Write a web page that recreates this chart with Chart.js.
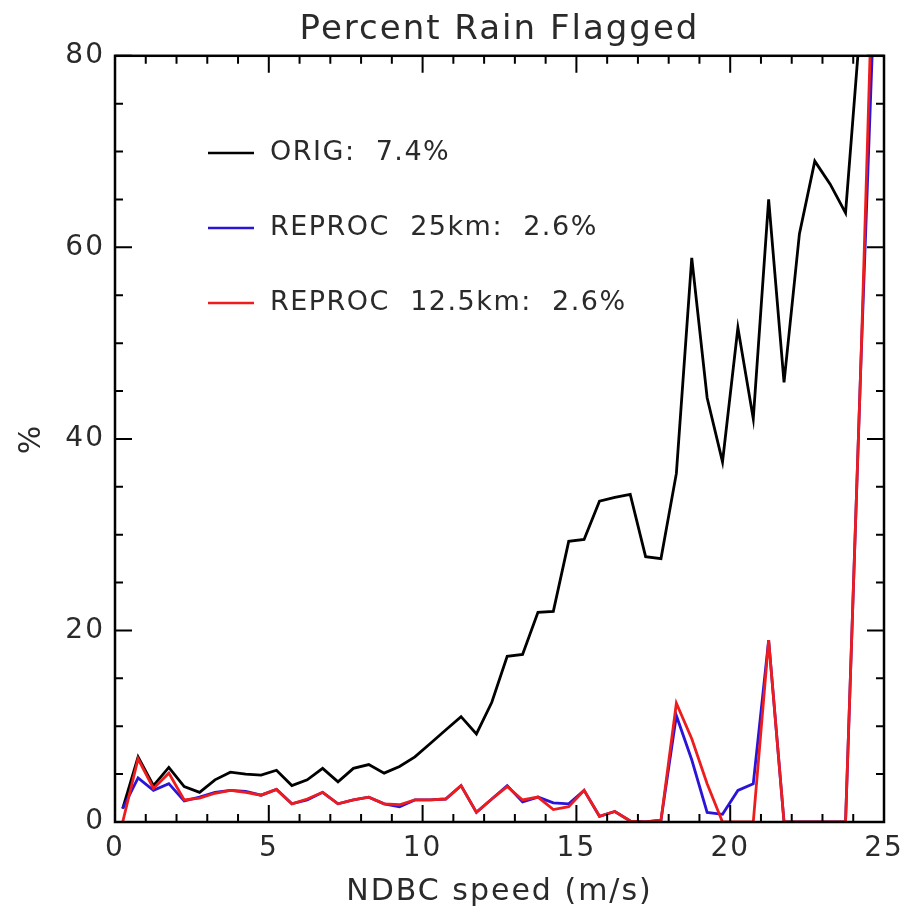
<!DOCTYPE html>
<html>
<head>
<meta charset="utf-8">
<script src="https://cdn.jsdelivr.net/npm/chart.js@4/dist/chart.umd.min.js"></script>
<style>
  html, body { margin: 0; padding: 0; background: #fff; }
  canvas { display: block; }
</style>
</head>
<body>
<canvas id="rainflag" width="907" height="916"></canvas>
<script>
// wind speed bins (m/s)
var speedBins = [0.25, 0.75, 1.25, 1.75, 2.25, 2.75, 3.25, 3.75, 4.25, 4.75,
	5.25, 5.75, 6.25, 6.75, 7.25, 7.75, 8.25, 8.75, 9.25, 9.75,
	10.25, 10.75, 11.25, 11.75, 12.25, 12.75, 13.25, 13.75, 14.25, 14.75,
	15.25, 15.75, 16.25, 16.75, 17.25, 17.75, 18.25, 18.75, 19.25, 19.75,
	20.25, 20.75, 21.25, 21.75, 22.25, 22.75, 23.25, 23.75, 24.25, 24.75];

// percent flagged per bin
var pctOrig = [1.4, 6.8, 3.8, 5.7, 3.7, 3.1, 4.4, 5.2, 5.0, 4.9,
	5.4, 3.8, 4.4, 5.6, 4.2, 5.6, 6.0, 5.1, 5.8, 6.8,
	8.2, 9.6, 11.0, 9.2, 12.5, 17.3, 17.5, 21.9, 22.0, 29.3,
	29.5, 33.5, 33.9, 34.2, 27.7, 27.5, 36.4, 58.9, 44.3, 37.6,
	51.6, 42.1, 65.0, 45.9, 61.4, 69.0, 66.6, 63.6, 84.1, 100];
var pct25km = [1.4, 4.6, 3.3, 4.0, 2.2, 2.6, 3.1, 3.3, 3.2, 2.8,
	3.4, 1.9, 2.3, 3.1, 1.9, 2.3, 2.6, 1.9, 1.6, 2.3,
	2.3, 2.4, 3.8, 1.0, 2.4, 3.8, 2.1, 2.6, 2.0, 1.9,
	3.3, 0.6, 1.1, 0.1, 0, 0.2, 11.1, 6.5, 1.0, 0.8,
	3.3, 4.0, 19.0, 0, 0, 0, 0, 0, 48, 92];
var pct12km = [0, 6.6, 3.5, 5.1, 2.3, 2.5, 3.0, 3.3, 3.1, 2.8,
	3.4, 1.9, 2.4, 3.1, 1.9, 2.3, 2.6, 1.9, 1.8, 2.3,
	2.3, 2.4, 3.8, 1.0, 2.4, 3.7, 2.3, 2.6, 1.3, 1.6,
	3.3, 0.6, 1.1, 0.1, 0, 0.2, 12.4, 8.7, 4.0, 0,
	0, 0, 19.0, 0, 0, 0, 0, 0, 48, 102];

var legendLabels = ["ORIG:  7.4%", "REPROC  25km:  2.6%", "REPROC  12.5km:  2.6%"];
var xTicks = [0, 5, 10, 15, 20, 25];
var yTicks = [0, 20, 40, 60, 80];

var FONT = "'DejaVu Sans', sans-serif";
var TXT = "#2a2a2a";

function pts(ys) {
	var out = [];
	for (var i = 0; i < speedBins.length; i++) out.push({ x: speedBins[i], y: ys[i] });
	return out;
}

// wide IDL-ish lettering
var spacing = {
	id: "spacing",
	beforeLayout: function (chart) { chart.ctx.letterSpacing = "2px"; },
	beforeDraw: function (chart) { chart.ctx.letterSpacing = "2px"; }
};

// IDL style box with inward ticks on all four sides + legend inside plot
var idlFrame = {
	id: "idlFrame",
	afterDraw: function (chart) {
		var ctx = chart.ctx, a = chart.chartArea;
		var xs = chart.scales.x, ys = chart.scales.y;
		ctx.save();
		ctx.strokeStyle = "#000";
		ctx.lineWidth = 2.5;
		ctx.strokeRect(a.left, a.top, a.right - a.left, a.bottom - a.top);
		ctx.lineWidth = 2;
		ctx.beginPath();
		for (var v = 0; v <= 25; v++) {
			var px = xs.getPixelForValue(v);
			var len = (v % 5 === 0) ? 17 : 8;
			ctx.moveTo(px, a.bottom); ctx.lineTo(px, a.bottom - len);
			ctx.moveTo(px, a.top); ctx.lineTo(px, a.top + len);
		}
		for (var w = 0; w <= 80; w += 5) {
			var py = ys.getPixelForValue(w);
			var len2 = (w % 20 === 0) ? 17 : 8;
			ctx.moveTo(a.left, py); ctx.lineTo(a.left + len2, py);
			ctx.moveTo(a.right, py); ctx.lineTo(a.right - len2, py);
		}
		ctx.stroke();

		// legend
		var cols = ["#000000", "#2a14d8", "#ee1c1c"];
		var rowY = [153, 228, 303];
		ctx.font = "27px " + FONT;
		ctx.letterSpacing = "1.5px";
		ctx.textBaseline = "middle";
		ctx.fillStyle = TXT;
		for (var k = 0; k < legendLabels.length; k++) {
			ctx.strokeStyle = cols[k];
			ctx.lineWidth = 2.5;
			ctx.beginPath();
			ctx.moveTo(208, rowY[k]); ctx.lineTo(254, rowY[k]);
			ctx.stroke();
			ctx.fillText(legendLabels[k], 270, rowY[k]);
		}
		ctx.restore();
	}
};

var data = {
	datasets: [{
			label: "REPROC 12.5km",
			data: pts(pct12km),
			borderColor: "#ee1c1c",
			borderWidth: 2.8,
			pointRadius: 0,
			tension: 0,
			order: 0
		}, {
			label: "REPROC 25km",
			data: pts(pct25km),
			borderColor: "#2a14d8",
			borderWidth: 2.8,
			pointRadius: 0,
			tension: 0,
			order: 1
		}, {
			label: "ORIG",
			data: pts(pctOrig),
			borderColor: "#000000",
			borderWidth: 2.8,
			pointRadius: 0,
			tension: 0,
			order: 2
		}
	]
};

var options = {
	responsive: false,
	animation: false,
	devicePixelRatio: 1,
	layout: { padding: { left: 0, right: 23, top: 0, bottom: 0 } },
	plugins: {
		legend: { display: false },
		tooltip: { enabled: false },
		title: {
			display: true,
			text: "Percent Rain Flagged",
			fullSize: false,
			color: TXT,
			font: { family: FONT, size: 34, weight: "normal", lineHeight: 1.2 },
			padding: { top: 10, bottom: 5 }
		}
	},
	scales: {
		x: {
			type: "linear",
			min: 0,
			max: 25,
			afterFit: function (s) { s.height = 94; s.paddingLeft = 0; s.paddingRight = 0; },
			afterBuildTicks: function (s) { s.ticks = xTicks.map(function (v) { return { value: v }; }); },
			grid: { display: false, drawTicks: false },
			border: { display: false },
			ticks: { color: TXT, padding: 10, autoSkip: false, maxRotation: 0, font: { family: FONT, size: 28 } },
			title: {
				display: true,
				text: "NDBC speed (m/s)",
				color: TXT,
				font: { family: FONT, size: 30, weight: "normal" },
				padding: { top: 0, bottom: 6 }
			}
		},
		y: {
			type: "linear",
			min: 0,
			max: 80,
			afterFit: function (s) { s.width = 115; s.paddingTop = 0; s.paddingBottom = 0; },
			afterBuildTicks: function (s) { s.ticks = yTicks.map(function (v) { return { value: v }; }); },
			grid: { display: false, drawTicks: false },
			border: { display: false },
			ticks: { color: TXT, padding: 10, autoSkip: false, font: { family: FONT, size: 28 } },
			title: {
				display: true,
				text: "%",
				color: TXT,
				font: { family: FONT, size: 30, weight: "normal" },
				padding: { top: 14, bottom: 0 }
			}
		}
	}
};

var chart = new Chart(document.getElementById("rainflag"), {
	type: "line",
	data: data,
	options: options,
	plugins: [spacing, idlFrame]
});
</script>
</body>
</html>
